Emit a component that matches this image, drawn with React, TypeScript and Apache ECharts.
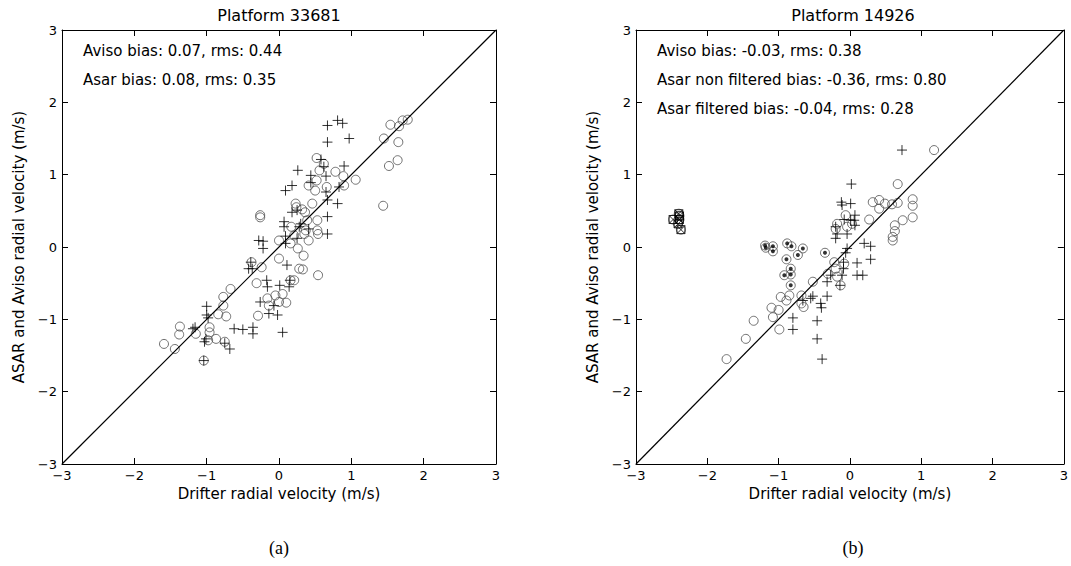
import React, { useEffect, useRef } from "react";
import * as echarts from "echarts";

// Panel (a): Platform 33681
const avisoA: [number, number][] = [
  [-1.59, -1.34], [-1.44, -1.41], [-1.37, -1.1], [-1.38, -1.21], [-1.15, -1.2], [-1.04, -1.57],
  [-0.96, -1.11], [-0.96, -1.18], [-0.98, -1.29], [-0.87, -1.27], [-0.75, -1.31], [-0.84, -0.93],
  [-0.73, -0.96], [-0.77, -0.81], [-0.77, -0.69], [-0.67, -0.58], [-0.26, 0.44], [-0.26, 0.41],
  [-0.38, -0.21], [-0.24, -0.28], [-0.31, -0.5], [-0.29, -0.95], [-0.16, -0.71], [-0.14, -0.81],
  [-0.05, -0.67], [0.0, -0.76], [0.05, -0.65], [0.1, -0.77], [0.16, -0.46], [0.0, -0.16],
  [0.0, 0.09], [0.26, -0.02], [0.34, -0.12], [0.28, -0.3], [0.33, -0.31], [0.54, -0.39],
  [0.21, -0.46], [0.17, 0.28], [0.21, 0.16], [0.35, 0.18], [0.41, 0.09], [0.23, 0.6],
  [0.24, 0.55], [0.36, 0.48], [0.39, 0.37], [0.53, 0.37], [0.53, 0.23], [0.54, 0.18],
  [0.46, 0.6], [0.41, 0.85], [0.52, 0.92], [0.5, 0.78], [0.52, 1.23], [0.56, 1.06],
  [0.62, 1.15], [0.78, 1.04], [0.89, 0.98], [0.9, 0.85], [1.06, 0.93], [0.66, 0.83],
  [1.44, 0.57], [1.45, 1.5], [1.52, 1.12], [1.64, 1.2], [1.65, 1.45], [1.54, 1.69],
  [1.66, 1.67], [1.71, 1.75], [1.78, 1.76], [0.32, 0.52], [0.37, 0.23], [0.16, 0.05],
];
const asarA: [number, number][] = [
  [-1.0, -0.82], [-1.0, -0.94], [-0.98, -0.98], [-1.16, -1.11], [-1.19, -1.13], [-1.01, -1.27],
  [-1.03, -1.31], [-0.75, -1.33], [-0.68, -1.41], [-0.62, -1.13], [-0.5, -1.14], [-0.36, -1.11],
  [-0.36, -1.2], [0.05, -1.18], [-0.28, 0.09], [-0.22, 0.08], [-0.22, -0.02], [-0.39, -0.21],
  [-0.42, -0.3], [-0.37, -0.3], [-0.17, -0.46], [-0.16, -0.55], [-0.26, -0.76], [-0.14, -0.92],
  [-0.02, -0.94], [-0.07, -0.81], [0.01, -0.53], [0.14, -0.55], [0.15, -0.46], [0.11, -0.25],
  [0.07, 0.35], [0.07, 0.28], [0.09, 0.15], [0.09, 0.05], [0.25, 0.12], [0.28, 0.28],
  [0.18, 0.48], [0.25, 0.51], [0.09, 0.78], [0.18, 0.85], [0.26, 1.06], [0.44, 0.99],
  [0.44, 0.89], [0.58, 1.21], [0.62, 1.11], [0.65, 0.98], [0.65, 0.76], [0.67, 0.65],
  [0.67, 0.18], [0.67, 0.42], [0.81, 0.6], [0.83, 0.83], [0.9, 1.12], [0.67, 1.68],
  [0.81, 1.75], [0.88, 1.71], [0.67, 1.45], [0.97, 1.5], [0.41, 0.25], [0.3, 0.32],
  [-1.04, -1.57],
];

// Panel (b): Platform 14926
const avisoB: [number, number][] = [
  [-1.73, -1.55], [-1.46, -1.27], [-1.35, -1.02], [-0.99, -1.14], [-1.08, -0.97], [-1.1, -0.84],
  [-1.0, -0.87], [-0.97, -0.69], [-0.85, -0.67], [-0.68, -0.67], [-0.68, -0.78], [-0.65, -0.83],
  [-0.52, -0.48], [-0.31, -0.37], [-0.22, -0.21], [-0.2, -0.3], [-0.18, -0.41], [-0.13, -0.53],
  [-0.08, -0.23], [-0.18, 0.32], [-0.2, 0.25], [-0.06, 0.44], [-0.04, 0.28], [0.03, 0.32],
  [0.27, 0.38], [0.32, 0.62], [0.41, 0.65], [0.41, 0.53], [0.49, 0.6], [0.59, 0.59],
  [0.67, 0.61], [0.67, 0.87], [0.74, 0.37], [0.63, 0.3], [0.63, 0.22], [0.6, 0.14],
  [0.6, 0.09], [0.88, 0.66], [0.88, 0.57], [0.88, 0.41], [1.18, 1.34], [-0.89, -0.74],
];
const asarNonFilteredB: [number, number][] = [
  [0.73, 1.34], [0.02, 0.87], [-0.12, 0.62], [0.01, 0.6], [-0.11, 0.58], [0.07, 0.44],
  [0.06, 0.37], [0.07, 0.3], [0.01, 0.37], [-0.04, 0.18], [-0.2, 0.28], [-0.18, 0.18],
  [-0.2, 0.12], [-0.08, 0.38], [-0.04, -0.02], [-0.06, -0.08], [0.2, 0.05], [0.29, 0.01],
  [0.29, -0.17], [0.1, -0.22], [0.1, -0.39], [0.18, -0.39], [-0.09, -0.21], [-0.09, -0.3],
  [-0.11, -0.39], [-0.27, -0.39], [-0.14, -0.53], [-0.32, -0.48], [-0.32, -0.68], [-0.52, -0.68],
  [-0.55, -0.71], [-0.41, -0.78], [-0.4, -0.84], [-0.8, -0.98], [-0.8, -1.14], [-0.46, -1.02],
  [-0.46, -1.27], [-0.39, -1.55], [-0.66, -0.74],
];
const asarFilteredB: [number, number][] = [
  [-1.19, 0.02], [-1.18, -0.01], [-1.08, 0.01], [-1.08, -0.06], [-0.88, 0.05], [-0.82, 0.01],
  [-0.66, -0.02], [-0.73, -0.11], [-0.35, -0.08], [-0.89, -0.17], [-0.83, -0.3], [-0.83, -0.38],
  [-0.92, -0.39], [-0.83, -0.53],
];
const outlierB: [number, number][] = [
  [-2.48, 0.38], [-2.4, 0.46], [-2.39, 0.38], [-2.37, 0.24], [-2.41, 0.32], [-2.39, 0.43],
];

const diagonal: [number, number][] = [[-3, -3], [3, 3]];
const axisMin = -3;
const axisMax = 3;
const titles = ["Platform 33681", "Platform 14926"];
const xName = "Drifter radial velocity (m/s)";
const yName = "ASAR and Aviso radial velocity (m/s)";
const notesA = ["Aviso bias: 0.07, rms: 0.44", "Asar bias: 0.08, rms: 0.35"];
const notesB = [
  "Aviso bias: -0.03, rms: 0.38",
  "Asar non filtered bias: -0.36, rms: 0.80",
  "Asar filtered bias: -0.04, rms: 0.28",
];
const panelLabels = ["(a)", "(b)"];

const FONT = '"DejaVu Sans", sans-serif';
const PLUS = "path://M0,-5L0,5M-5,0L5,0";
const BOXX = "path://M-5,-5L5,-5L5,5L-5,5ZM-5,-5L5,5M5,-5L-5,5";

const fmt = (v: number) => (v < 0 ? "\u2212" + Math.abs(v) : String(v));

export default function App() {
  const ref = useRef<HTMLDivElement>(null);
  useEffect(() => {
    if (!ref.current) return;
    const chart = echarts.init(ref.current, undefined, { renderer: "svg" });
    const gridL = [62, 636];
    const top = 30;
    const size = 434;

    const xAxes: any[] = [];
    const yAxes: any[] = [];
    gridL.forEach((_, g) => {
      const base = {
        gridIndex: g,
        type: "value",
        min: axisMin,
        max: axisMax,
        interval: 1,
        splitLine: { show: false },
        axisLine: { show: true, onZero: false, lineStyle: { color: "#000", width: 1 } },
        axisTick: { show: true, inside: true, length: 6, lineStyle: { color: "#000" } },
      };
      xAxes.push({
        ...base,
        position: "bottom",
        name: xName,
        nameLocation: "middle",
        nameGap: 22,
        nameTextStyle: { fontFamily: FONT, fontSize: 15, color: "#000" },
        axisLabel: { show: true, margin: 5, fontFamily: FONT, fontSize: 13, color: "#000", formatter: fmt },
      });
      xAxes.push({ ...base, position: "top", axisLabel: { show: false } });
      yAxes.push({
        ...base,
        position: "left",
        name: yName,
        nameLocation: "middle",
        nameGap: 36,
        nameTextStyle: { fontFamily: FONT, fontSize: 15, color: "#000" },
        axisLabel: { show: true, margin: 5, fontFamily: FONT, fontSize: 13, color: "#000", formatter: fmt },
      });
      yAxes.push({ ...base, position: "right", axisLabel: { show: false } });
    });

    const circle = (data: [number, number][], ax: number) => ({
      type: "scatter",
      xAxisIndex: ax,
      yAxisIndex: ax,
      data,
      symbol: "circle",
      symbolSize: 9,
      itemStyle: { color: "rgba(0,0,0,0)", borderColor: "#4d4d4d", borderWidth: 1 },
      z: 3,
    });
    const pathSym = (data: [number, number][], ax: number, sym: string, size: number) => ({
      type: "scatter",
      xAxisIndex: ax,
      yAxisIndex: ax,
      data,
      symbol: sym,
      symbolSize: size,
      itemStyle: { color: "rgba(0,0,0,0)", borderColor: "#000", borderWidth: 1 },
      z: 4,
    });
    const diag = (ax: number) => ({
      type: "line",
      xAxisIndex: ax,
      yAxisIndex: ax,
      data: diagonal,
      showSymbol: false,
      symbol: "none",
      lineStyle: { color: "#000", width: 1.2 },
      z: 5,
    });

    const textEl = (text: string, x: number, y: number, size: number, align: string, family = FONT) => ({
      type: "text",
      x,
      y,
      style: {
        text,
        fill: "#000",
        font: `${size}px ${family}`,
        fontSize: size,
        fontFamily: family,
        textAlign: align,
        textVerticalAlign: "middle",
        align,
        verticalAlign: "middle",
      },
    });

    const graphics: any[] = [];
    titles.forEach((t, i) => graphics.push(textEl(t, gridL[i] + size / 2, 15, 16, "center")));
    notesA.forEach((t, i) => graphics.push(textEl(t, 83, 51 + i * 29, 15, "left")));
    notesB.forEach((t, i) => graphics.push(textEl(t, 657, 51 + i * 29, 15, "left")));
    panelLabels.forEach((t, i) =>
      graphics.push(textEl(t, gridL[i] + size / 2, 548, 18, "center", '"Liberation Serif", "Times New Roman", serif'))
    );

    chart.setOption({
      animation: false,
      backgroundColor: "#fff",
      grid: gridL.map((l) => ({ left: l, top, width: size, height: size, containLabel: false })),
      xAxis: xAxes,
      yAxis: yAxes,
      series: [
        diag(0),
        circle(avisoA, 0),
        pathSym(asarA, 0, PLUS, 10),
        diag(2),
        circle(avisoB, 2),
        pathSym(asarNonFilteredB, 2, PLUS, 10),
        circle(asarFilteredB, 2),
        {
          type: "scatter",
          xAxisIndex: 2,
          yAxisIndex: 2,
          data: asarFilteredB,
          symbol: "circle",
          symbolSize: 4,
          itemStyle: { color: "#000" },
          z: 4,
        },
        pathSym(outlierB, 2, BOXX, 8),
        circle(outlierB, 2),
      ],
      graphic: graphics,
    });
    return () => chart.dispose();
  }, []);
  return (
    <div
      ref={ref}
      style={{ position: "absolute", left: 0, top: 0, width: 1071, height: 566, background: "#fff" }}
    />
  );
}
